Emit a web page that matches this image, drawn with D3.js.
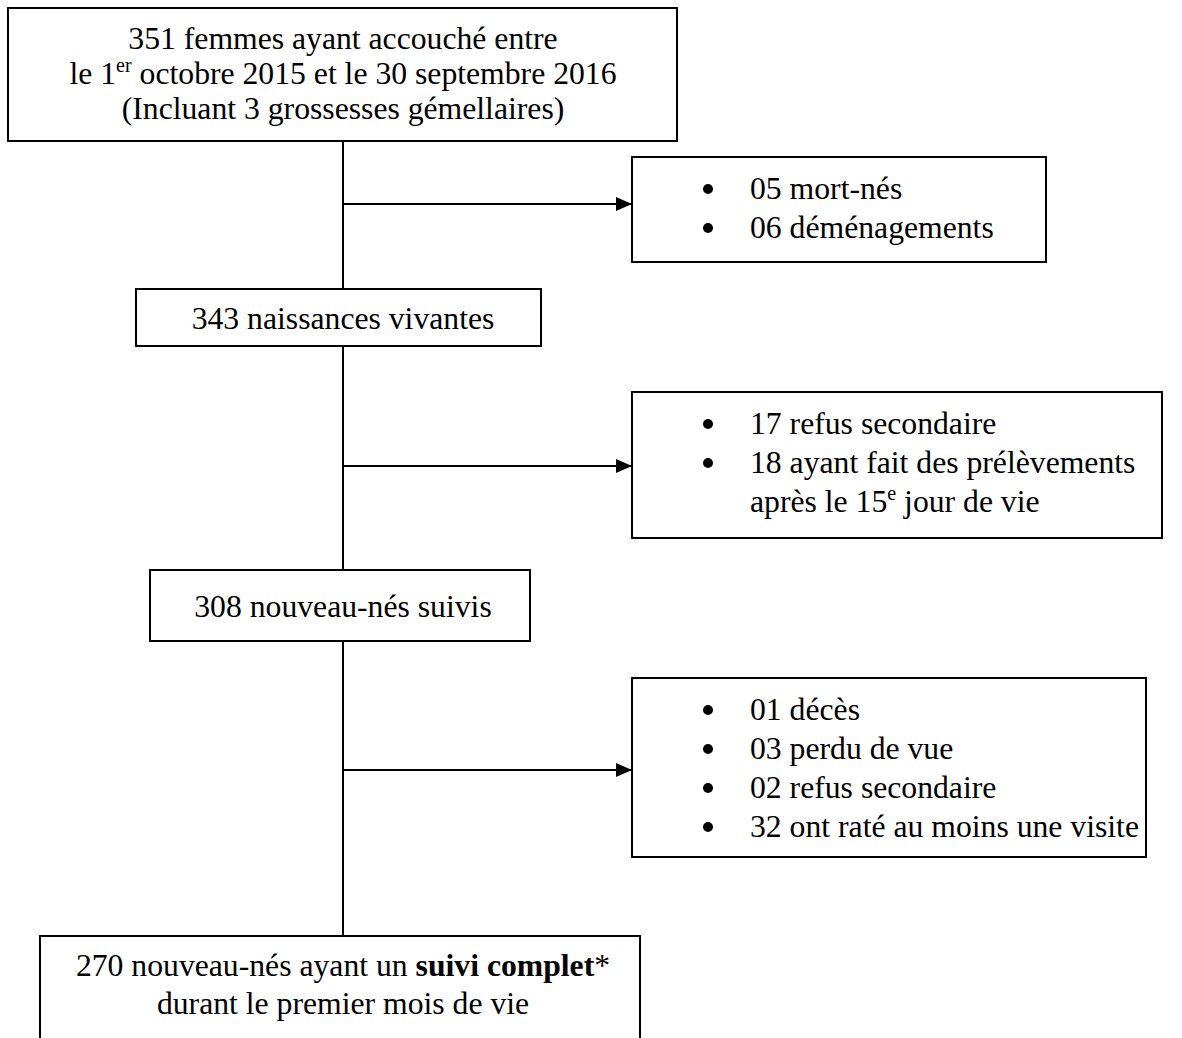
<!DOCTYPE html>
<html>
<head>
<meta charset="utf-8">
<script src="https://cdn.jsdelivr.net/npm/d3@7"></script>
<style>
  body { margin: 0; background: #fff; }
  svg { display: block; }
</style>
</head>
<body>
<div id="chart"></div>
<script>
// text content of the flow chart
var mainSteps = [
  [["351 femmes ayant accouché entre"],
   ["le 1", {sup: "er"}, " octobre 2015 et le 30 septembre 2016"],
   ["(Incluant 3 grossesses gémellaires)"]],
  [["343 naissances vivantes"]],
  [["308 nouveau-nés suivis"]],
  [["270 nouveau-nés ayant un ", {b: "suivi complet"}, "*"],
   ["durant le premier mois de vie"]]
];

var exclusions = [
  [[true, "05 mort-nés"], [true, "06 déménagements"]],
  [[true, "17 refus secondaire"], [true, "18 ayant fait des prélèvements"], [false, "après le 15", {sup: "e"}, " jour de vie"]],
  [[true, "01 décès"], [true, "03 perdu de vue"], [true, "02 refus secondaire"], [true, "32 ont raté au moins une visite"]]
];

// layout of boxes (left, top, right, bottom) and first baseline / line step
var mainBoxes = [[8, 8, 677, 141], [136, 289, 541, 346], [150, 570, 530, 641], [40, 936, 640, 1060]];
var mainText = [[49, 35], [329, 38], [617, 38], [976, 38]];
var sideBoxes = [[632, 157, 1046, 262], [632, 392, 1162, 538], [632, 678, 1146, 857]];
var arrowY = [204, 466, 770];
var spineX = 343;

var W = 1182, H = 1038;
var fontSize = 31.7;

var svg = d3.select("#chart").append("svg")
  .attr("width", W).attr("height", H)
  .style("font-family", "'Liberation Serif', 'Times New Roman', serif")
  .style("font-size", fontSize + "px");

svg.append("defs").append("marker")
  .attr("id", "arrow")
  .attr("viewBox", "0 0 16 14")
  .attr("refX", 16).attr("refY", 7)
  .attr("markerWidth", 16).attr("markerHeight", 14)
  .attr("markerUnits", "userSpaceOnUse")
  .attr("orient", "auto")
  .append("path").attr("d", "M0,0L16,7L0,14z").attr("fill", "#000");

// spine
svg.append("line")
  .attr("x1", spineX).attr("x2", spineX)
  .attr("y1", mainBoxes[0][3]).attr("y2", mainBoxes[3][1])
  .attr("stroke", "#000").attr("stroke-width", 2);

// arrows
svg.selectAll(".arr").data(arrowY).enter().append("line")
  .attr("class", "arr")
  .attr("x1", spineX).attr("x2", function(d, i){ return sideBoxes[i][0]; })
  .attr("y1", function(d){ return d; }).attr("y2", function(d){ return d; })
  .attr("stroke", "#000").attr("stroke-width", 2)
  .attr("marker-end", "url(#arrow)");

function drawRect(b) {
  svg.append("rect")
    .attr("x", b[0]).attr("y", b[1])
    .attr("width", b[2] - b[0]).attr("height", b[3] - b[1])
    .attr("fill", "#fff").attr("stroke", "#000").attr("stroke-width", 2);
}

function addParts(t, parts) {
  var pending = 0;
  parts.forEach(function(p){
    var s, shift = 0;
    if (typeof p === "string") {
      s = t.append("tspan").text(p);
    } else if (p.sup) {
      s = t.append("tspan").style("font-size", "20px").text(p.sup);
      shift = -12;
    } else {
      s = t.append("tspan").style("font-weight", "bold").text(p.b);
    }
    if (shift !== pending) s.attr("dy", shift - pending);
    pending = shift;
  });
}

// main boxes
mainSteps.forEach(function(lines, i){
  var b = mainBoxes[i];
  drawRect(b);
  lines.forEach(function(parts, j){
    var t = svg.append("text")
      .attr("x", spineX)
      .attr("y", mainText[i][0] + j * mainText[i][1])
      .attr("text-anchor", "middle");
    addParts(t, parts);
  });
});

// side boxes
exclusions.forEach(function(items, i){
  var b = sideBoxes[i];
  drawRect(b);
  items.forEach(function(item, j){
    var y = b[1] + 42 + j * 39;
    if (item[0]) {
      svg.append("circle")
        .attr("cx", b[0] + 76).attr("cy", y - 10)
        .attr("r", 5).attr("fill", "#000");
    }
    var t = svg.append("text").attr("x", b[0] + 118).attr("y", y);
    addParts(t, item.slice(1));
  });
});
</script>
</body>
</html>
